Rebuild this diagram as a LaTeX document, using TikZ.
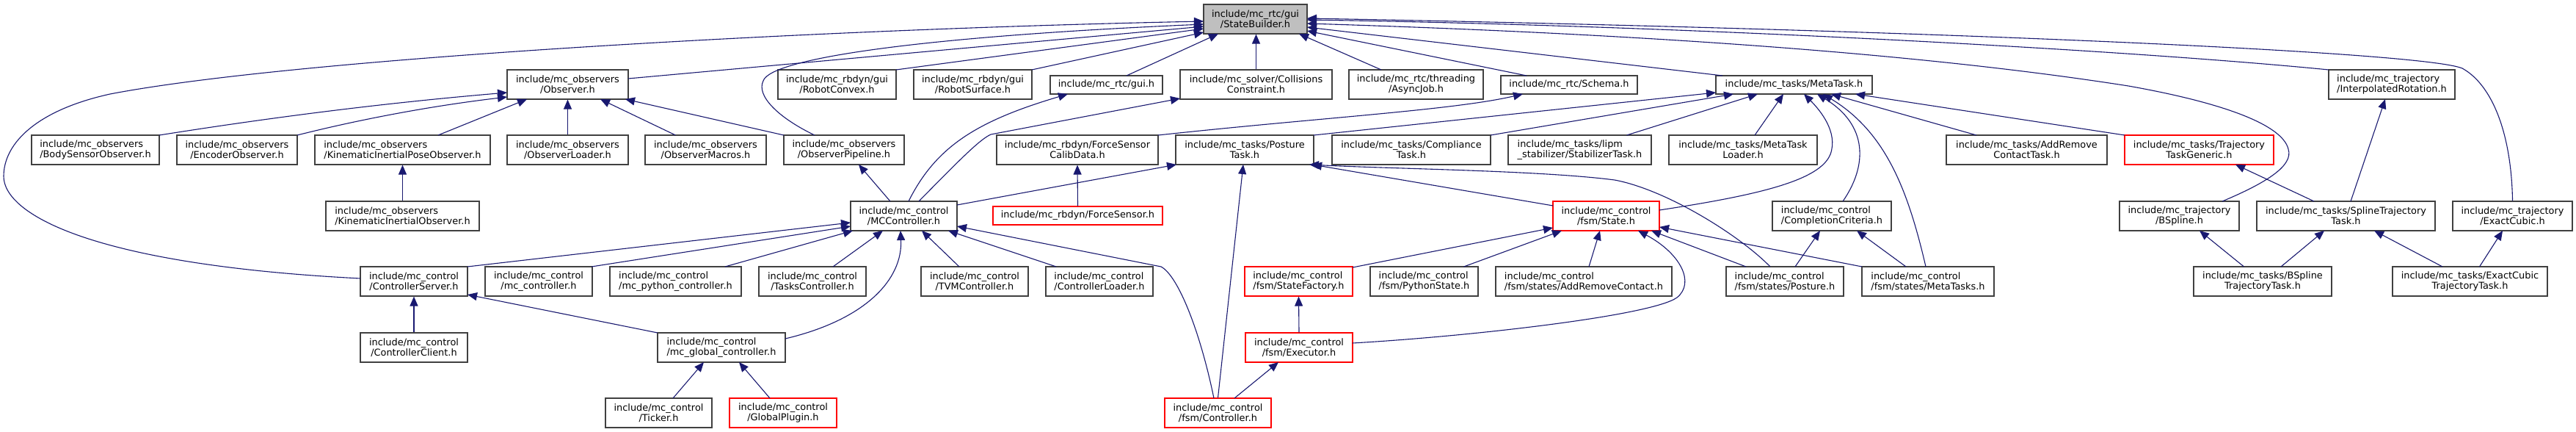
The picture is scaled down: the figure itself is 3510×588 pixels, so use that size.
\documentclass[tikz,border=0pt]{standalone}
\usepackage{fontspec}
\setmainfont{DejaVu Sans}
\usetikzlibrary{arrows.meta,calc}
\definecolor{edgecol}{HTML}{191970}
\definecolor{boxcol}{HTML}{404040}
\definecolor{sbfill}{HTML}{BFBFBF}
\newcommand\nodefont{\fontsize{12.9bp}{14.3bp}\selectfont}
\newcommand\twol[2]{%
  \setbox0=\hbox{#1}\setbox2=\hbox{#2}%
  \dimen0=\wd0 \ifdim\wd2>\dimen0 \dimen0=\wd2 \fi
  \vbox{\baselineskip=14.3bp\lineskiplimit=-20bp
    \hbox to\dimen0{\unhbox0\hfil}%
    \hbox to\dimen0{\hfil\unhbox2\hfil}}}
\tikzset{
  box/.style={draw=boxcol, line width=1.1bp, inner sep=0pt, minimum height=40bp, font=\nodefont, fill=white},
  box1/.style={box, minimum height=25bp},
  redbox/.style={draw=red},
  edge/.style={draw=edgecol, line width=1.1bp, -{Triangle[length=13bp,width=11bp]}},
}
\begin{document}
\begin{tikzpicture}[x=1bp,y=-1bp]
\useasboundingbox[fill=white] (0,0) rectangle (3510,588);
% row 0
\node[box,minimum width=141bp,fill=sbfill] (SB) at (1710.5,26) {\twol{include/mc\_rtc/gui}{/StateBuilder.h}};
% row 1
\node[box,minimum width=165bp] (OBS) at (773.5,115) {\twol{include/mc\_observers}{/Observer.h}};
\node[box,minimum width=161bp] (RCX) at (1140.5,115) {\twol{include/mc\_rbdyn/gui}{/RobotConvex.h}};
\node[box,minimum width=161bp] (RSF) at (1325.5,115) {\twol{include/mc\_rbdyn/gui}{/RobotSurface.h}};
\node[box1,minimum width=153bp] (GUI) at (1507.5,115.5) {include/mc\_rtc/gui.h};
\node[box,minimum width=207bp] (COL) at (1711.5,115) {\twol{include/mc\_solver/Collisions}{Constraint.h}};
\node[box,minimum width=183bp] (ASY) at (1929.5,115) {\twol{include/mc\_rtc/threading}{/AsyncJob.h}};
\node[box1,minimum width=186bp] (SCH) at (2138,115.5) {include/mc\_rtc/Schema.h};
\node[box1,minimum width=213bp] (MT) at (2444.5,115.5) {include/mc\_tasks/MetaTask.h};
\node[box,minimum width=172bp] (IR) at (3259,115) {\twol{include/mc\_trajectory}{/InterpolatedRotation.h}};
% row 2
\node[box,minimum width=174bp] (BSO) at (130,204) {\twol{include/mc\_observers}{/BodySensorObserver.h}};
\node[box,minimum width=164bp] (ENC) at (323,204) {\twol{include/mc\_observers}{/EncoderObserver.h}};
\node[box,minimum width=239bp] (KIPO) at (548.5,204) {\twol{include/mc\_observers}{/KinematicInertialPoseObserver.h}};
\node[box,minimum width=165bp] (OL) at (773.5,204) {\twol{include/mc\_observers}{/ObserverLoader.h}};
\node[box,minimum width=165bp] (OM) at (961.5,204) {\twol{include/mc\_observers}{/ObserverMacros.h}};
\node[box,minimum width=164bp] (OP) at (1150,204) {\twol{include/mc\_observers}{/ObserverPipeline.h}};
\node[box,minimum width=220bp] (FSC) at (1468,204) {\twol{include/mc\_rbdyn/ForceSensor}{CalibData.h}};
\node[box,minimum width=188bp] (PT) at (1696,204) {\twol{include/mc\_tasks/Posture}{Task.h}};
\node[box,minimum width=216bp] (CT) at (1923,204) {\twol{include/mc\_tasks/Compliance}{Task.h}};
\node[box,minimum width=195bp] (ST) at (2152.5,204) {\twol{include/mc\_tasks/lipm}{\_stabilizer/StabilizerTask.h}};
\node[box,minimum width=202bp] (MTL) at (2375,204) {\twol{include/mc\_tasks/MetaTask}{Loader.h}};
\node[box,minimum width=219bp] (ARCT) at (2761.5,204) {\twol{include/mc\_tasks/AddRemove}{ContactTask.h}};
\node[box,redbox,minimum width=203bp] (TTG) at (2996.5,204) {\twol{include/mc\_tasks/Trajectory}{TaskGeneric.h}};
% row 3
\node[box,minimum width=209bp] (KIO) at (548.5,294) {\twol{include/mc\_observers}{/KinematicInertialObserver.h}};
\node[box,minimum width=145bp] (MCC) at (1231.5,294) {\twol{include/mc\_control}{/MCController.h}};
\node[box1,redbox,minimum width=231bp] (FS) at (1468.5,293.5) {include/mc\_rbdyn/ForceSensor.h};
\node[box,redbox,minimum width=145bp] (STA) at (2188.5,294) {\twol{include/mc\_control}{/fsm/State.h}};
\node[box,minimum width=162bp] (CC) at (2496,294) {\twol{include/mc\_control}{/CompletionCriteria.h}};
\node[box,minimum width=163bp] (BSP) at (2969.5,294) {\twol{include/mc\_trajectory}{/BSpline.h}};
\node[box,minimum width=243bp] (STT) at (3196.5,294) {\twol{include/mc\_tasks/SplineTrajectory}{Task.h}};
\node[box,minimum width=163bp] (EC) at (3423.5,294) {\twol{include/mc\_trajectory}{/ExactCubic.h}};
% row 4
\node[box,minimum width=146bp] (CS) at (564,383) {\twol{include/mc\_control}{/ControllerServer.h}};
\node[box,minimum width=146bp] (MCCTL) at (734,383) {\twol{include/mc\_control}{/mc\_controller.h}};
\node[box,minimum width=179bp] (MPC) at (920.5,383) {\twol{include/mc\_control}{/mc\_python\_controller.h}};
\node[box,minimum width=146bp] (TC) at (1107,383) {\twol{include/mc\_control}{/TasksController.h}};
\node[box,minimum width=146bp] (TVM) at (1328,383) {\twol{include/mc\_control}{/TVMController.h}};
\node[box,minimum width=146bp] (CL) at (1498,383) {\twol{include/mc\_control}{/ControllerLoader.h}};
\node[box,redbox,minimum width=147bp] (SF) at (1769.5,383) {\twol{include/mc\_control}{/fsm/StateFactory.h}};
\node[box,minimum width=147bp] (PS) at (1940.5,383) {\twol{include/mc\_control}{/fsm/PythonState.h}};
\node[box,minimum width=240bp] (ARC) at (2158,383) {\twol{include/mc\_control}{/fsm/states/AddRemoveContact.h}};
\node[box,minimum width=160bp] (FP) at (2432,383) {\twol{include/mc\_control}{/fsm/states/Posture.h}};
\node[box,minimum width=180bp] (FMT) at (2627,383) {\twol{include/mc\_control}{/fsm/states/MetaTasks.h}};
\node[box,minimum width=188bp] (BST) at (3083,383) {\twol{include/mc\_tasks/BSpline}{TrajectoryTask.h}};
\node[box,minimum width=211bp] (ECT) at (3365.5,383) {\twol{include/mc\_tasks/ExactCubic}{TrajectoryTask.h}};
% row 5
\node[box,minimum width=146bp] (CCL) at (564,473) {\twol{include/mc\_control}{/ControllerClient.h}};
\node[box,minimum width=174bp] (MGC) at (983,473) {\twol{include/mc\_control}{/mc\_global\_controller.h}};
\node[box,redbox,minimum width=146bp] (EX) at (1770,473) {\twol{include/mc\_control}{/fsm/Executor.h}};
% row 6
\node[box,minimum width=145bp] (TK) at (897.5,562) {\twol{include/mc\_control}{/Ticker.h}};
\node[box,redbox,minimum width=146bp] (GP) at (1067,562) {\twol{include/mc\_control}{/GlobalPlugin.h}};
\node[box,redbox,minimum width=145bp] (FC) at (1659.5,562) {\twol{include/mc\_control}{/fsm/Controller.h}};

% ---- edges into StateBuilder
\draw[edge] ($(CS)+(-73,-4)$) .. controls (120,360) and (5,290) .. (5,240)
  .. controls (5,195) and (50,150) .. (150,128)
  .. controls (400,80) and (1100,40) .. ($(SB)+(-70.5,3)$);
\draw[edge] ($(OP)+(-40,-20)$) .. controls (1060,160) and (1030,130) .. (1040,110)
  .. controls (1050,80) and (1250,50) .. ($(SB)+(-70.5,7)$);
\draw[edge] ($(OBS)+(82.5,-8)$) -- ($(SB)+(-70.5,10)$);
\draw[edge] ($(RCX)+(80.5,-20)$) -- ($(SB)+(-70.5,13)$);
\draw[edge] ($(RSF)+(80.5,-20)$) -- ($(SB)+(-70.5,18)$);
\draw[edge] ($(GUI)+(27.5,-12.5)$) -- ($(SB)+(-50.5,20)$);
\draw[edge] (COL.north) -- (COL.north |- SB.south);
\draw[edge] ($(ASY)+(-47.5,-20)$) -- ($(SB)+(59.5,20)$);
\draw[edge] ($(SCH)+(-58,-12.5)$) -- ($(SB)+(70.5,16)$);
\draw[edge] ($(MT)+(-97.5,-12.5)$) -- ($(SB)+(70.5,11)$);
\draw[edge] ($(BSP)+(58.5,-20)$) .. controls (3090,248) and (3125,225) .. (3118,203)
  .. controls (3110,170) and (3030,140) .. (2900,117)
  .. controls (2600,70) and (2200,45) .. ($(SB)+(70.5,6)$);
\draw[edge] ($(IR)+(-86,-20)$) .. controls (2900,68) and (2300,35) .. ($(SB)+(70.5,1)$);
\draw[edge] (EC.north) .. controls (3422,180) and (3395,115) .. (3355,93)
  .. controls (3300,70) and (2600,40) .. ($(SB)+(70.5,-1)$);
% ---- into Observer
\draw[edge] ($(BSO)+(87,-20)$) .. controls (400,155) and (550,138) .. ($(OBS)+(-82.5,11)$);
\draw[edge] ($(ENC)+(82,-20)$) .. controls (480,165) and (580,145) .. ($(OBS)+(-82.5,17)$);
\draw[edge] ($(KIPO)+(48.5,-20)$) -- ($(OBS)+(-55.5,20)$);
\draw[edge] (OL.north) -- (OBS.south);
\draw[edge] ($(OM)+(-41,-20)$) -- ($(OBS)+(44.5,20)$);
\draw[edge] ($(OP)+(-82,-20)$) -- ($(OBS)+(78.5,20)$);
\draw[edge] (KIO.north) -- (KIPO.south);
% ---- from MCController
\draw[edge] ($(MCC)+(-18.5,-20)$) -- ($(OP)+(20,20)$);
\draw[edge] ($(MCC)+(6.5,-20)$) .. controls (1275,200) and (1330,165) .. ($(GUI)+(-52.5,12.5)$);
\draw[edge] ($(MCC)+(20.5,-20)$) .. controls (1310,215) and (1335,190) .. (1350,183) -- ($(COL)+(-103.5,19)$);
\draw[edge] ($(MCC)+(72.5,-15)$) -- ($(PT)+(-93,20)$);
\draw[edge] (FS.north) -- (FSC.south);
\draw[edge] ($(FSC)+(110,-20)$) .. controls (1800,160) and (1980,150) .. ($(SCH)+(-63,12.5)$);
% ---- into MetaTask
\draw[edge] ($(PT)+(94,-20)$) -- ($(MT)+(-106.5,10.5)$);
\draw[edge] ($(CT)+(108,-20)$) -- ($(MT)+(-82.5,12.5)$);
\draw[edge] ($(ST)+(64,-20)$) -- ($(MT)+(-49.5,12.5)$);
\draw[edge] ($(MTL)+(16,-20)$) -- ($(MT)+(-14.5,12.5)$);
\draw[edge] ($(STA)+(72.5,-8)$) .. controls (2400,265) and (2480,245) .. (2494,210)
  .. controls (2505,180) and (2480,150) .. ($(MT)+(13.5,12.5)$);
\draw[edge] ($(CC)+(15,-20)$) .. controls (2545,225) and (2545,170) .. ($(MT)+(31.5,12.5)$);
\draw[edge] ($(FMT)+(-3,-20)$) .. controls (2600,260) and (2570,180) .. ($(MT)+(39.5,12.5)$);
\draw[edge] ($(ARCT)+(-68.5,-20)$) -- ($(MT)+(50.5,12.5)$);
\draw[edge] ($(TTG)+(-101.5,-20)$) -- ($(MT)+(83.5,12.5)$);
% ---- into PostureTask
\draw[edge] ($(STA)+(-72.5,-14)$) -- ($(PT)+(92,20)$);
\draw[edge] ($(FP)+(-20,-20)$) .. controls (2370,320) and (2270,258) .. (2200,245)
  .. controls (2100,232) and (1900,230) .. ($(PT)+(88,20)$);
\draw[edge] (FC.north) -- ($(PT)+(-2,20)$);
% ---- into MCController
\draw[edge] ($(CS)+(73,-20)$) -- ($(MCC)+(-72.5,9)$);
\draw[edge] ($(MCCTL)+(72,-20)$) -- ($(MCC)+(-72.5,14)$);
\draw[edge] ($(MPC)+(67.5,-20)$) -- ($(MCC)+(-69.5,20)$);
\draw[edge] ($(TC)+(28,-20)$) -- ($(MCC)+(-28.5,20)$);
\draw[edge] ($(MGC)+(87,-12)$) .. controls (1180,435) and (1230,380) .. ($(MCC)+(-4.5,20)$);
\draw[edge] ($(TVM)+(-21,-20)$) -- ($(MCC)+(24.5,20)$);
\draw[edge] ($(CL)+(-59,-20)$) -- ($(MCC)+(60.5,20)$);
\draw[edge] ($(FC)+(-5.5,-20)$) .. controls (1635,450) and (1605,375) .. (1582,363) -- ($(MCC)+(72.5,14)$);
% ---- controller server / global controller
\draw[edge] (CCL.north) -- (CS.south);
\draw[edge] ($(MGC)+(-87,-20)$) -- ($(CS)+(73,18)$);
\draw[edge] ($(TK)+(19.5,-20)$) -- ($(MGC)+(-24,20)$);
\draw[edge] ($(GP)+(-18,-20)$) -- ($(MGC)+(24,20)$);
% ---- into State
\draw[edge] ($(SF)+(73.5,-19)$) -- ($(STA)+(-72.5,16)$);
\draw[edge] ($(PS)+(54,-20)$) -- ($(STA)+(-60.5,20)$);
\draw[edge] ($(ARC)+(7,-20)$) -- ($(STA)+(-8.5,20)$);
\draw[edge] ($(EX)+(73,-6)$) .. controls (2000,458) and (2250,430) .. (2285,405)
  .. controls (2310,385) and (2290,345) .. ($(STA)+(43.5,20)$);
\draw[edge] ($(FMT)+(-90,-20)$) -- ($(STA)+(72.5,15)$);
\draw[edge] ($(FP)+(-53,-20)$) -- ($(STA)+(61.5,20)$);
\draw[edge] ($(FP)+(14,-20)$) -- ($(CC)+(-16,20)$);
\draw[edge] ($(FMT)+(-30,-20)$) -- ($(CC)+(34,20)$);
\draw[edge] (EX.north) -- (SF.south);
\draw[edge] ($(FC)+(22.5,-20)$) -- ($(EX)+(-28,20)$);
% ---- trajectories
\draw[edge] ($(STT)+(-43.5,-20)$) -- ($(TTG)+(49.5,20)$);
\draw[edge] ($(STT)+(6.5,-20)$) -- ($(IR)+(-9,20)$);
\draw[edge] ($(BST)+(-25.5,-20)$) -- ($(BSP)+(27.5,20)$);
\draw[edge] ($(BST)+(25,-20)$) -- ($(STT)+(-29.5,20)$);
\draw[edge] ($(ECT)+(-37.5,-20)$) -- ($(STT)+(38.5,20)$);
\draw[edge] ($(ECT)+(13,-20)$) -- ($(EC)+(-13.5,20)$);
\end{tikzpicture}
\end{document}
